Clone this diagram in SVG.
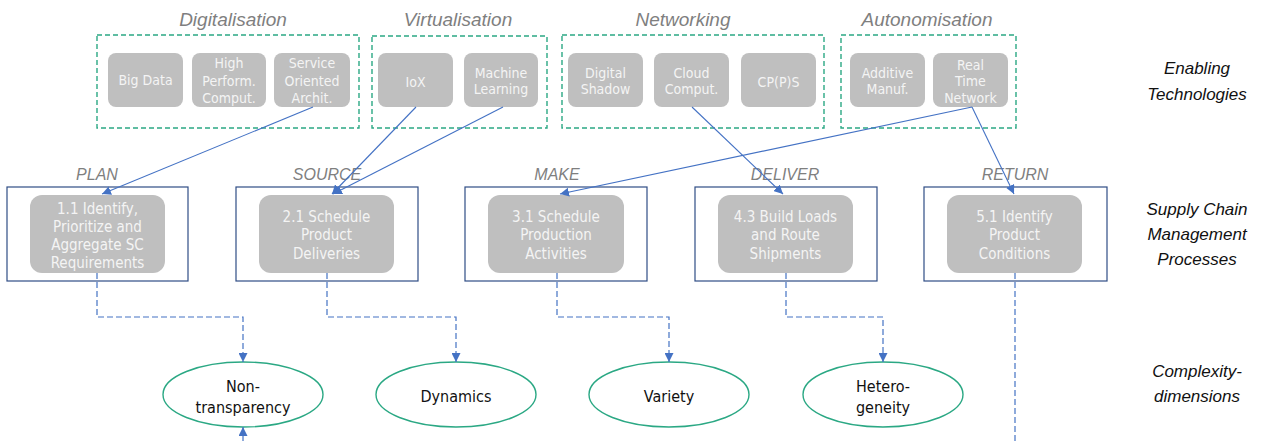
<svg xmlns="http://www.w3.org/2000/svg" width="1266" height="441" viewBox="0 0 1266 441">
  <style>
    .grp { fill: none; stroke: #2BA884; stroke-width: 1.4; stroke-dasharray: 5 3; }
    .tech { fill: #BFBFBF; }
    .techtxt { font-family: "DejaVu Sans Condensed", "DejaVu Sans", sans-serif; font-size: 14px; fill: #F4F4F4; text-anchor: middle; }
    .grptitle { font-family: "Liberation Sans", Arial, sans-serif; font-style: italic; font-size: 19px; fill: #7F7F7F; text-anchor: middle; }
    .frame { fill: #FFFFFF; stroke: #2F4D85; stroke-width: 1.2; }
    .proc { fill: #BFBFBF; }
    .proctxt { font-family: "DejaVu Sans Condensed", "DejaVu Sans", sans-serif; font-size: 15px; fill: #F4F4F4; text-anchor: middle; }
    .phase { font-family: "Liberation Sans", Arial, sans-serif; font-style: italic; font-size: 16px; fill: #7F7F7F; text-anchor: middle; }
    .dim { fill: #FFFFFF; stroke: #2BA884; stroke-width: 1.4; }
    .dimtxt { font-family: "DejaVu Sans Condensed", "DejaVu Sans", sans-serif; font-size: 16px; fill: #111111; text-anchor: middle; }
    .side { font-family: "Liberation Sans", Arial, sans-serif; font-style: italic; font-size: 17px; fill: #111111; text-anchor: middle; }
    .link { fill: none; stroke: #4472C4; stroke-width: 1.1; }
    .dash { fill: none; stroke: #4472C4; stroke-width: 1.2; stroke-dasharray: 6 3; }
  </style>
  <defs>
    <marker id="arrow" viewBox="0 0 10 10" refX="10" refY="5" markerWidth="9" markerHeight="9" markerUnits="userSpaceOnUse" orient="auto">
      <path d="M0,0 L10,5 L0,10 z" fill="#4472C4"/>
    </marker>
  </defs>

  <rect width="1266" height="441" fill="#FFFFFF"/>

  <!-- Enabling technology groups -->
  <g id="group-digitalisation">
    <text class="grptitle" x="233" y="26">Digitalisation</text>
    <rect class="grp" x="97" y="35" width="262" height="93"/>
    <g id="tech-bigdata">
      <rect class="tech" x="108" y="53" width="75" height="54" rx="8"/>
      <text class="techtxt" x="145.5" y="85">Big Data</text>
    </g>
    <g id="tech-hpc">
      <rect class="tech" x="192" y="53" width="74" height="54" rx="8"/>
      <text class="techtxt" x="229" y="68">High</text>
      <text class="techtxt" x="229" y="85.5">Perform.</text>
      <text class="techtxt" x="229" y="103">Comput.</text>
    </g>
    <g id="tech-soa">
      <rect class="tech" x="274" y="53" width="76" height="54" rx="8"/>
      <text class="techtxt" x="312" y="68">Service</text>
      <text class="techtxt" x="312" y="85.5">Oriented</text>
      <text class="techtxt" x="312" y="103">Archit.</text>
    </g>
  </g>

  <g id="group-virtualisation">
    <text class="grptitle" x="458" y="26">Virtualisation</text>
    <rect class="grp" x="372" y="36" width="175" height="92"/>
    <g id="tech-iox">
      <rect class="tech" x="378" y="53" width="75" height="54" rx="8"/>
      <text class="techtxt" x="415.5" y="86.5">IoX</text>
    </g>
    <g id="tech-ml">
      <rect class="tech" x="464" y="53" width="74" height="54" rx="8"/>
      <text class="techtxt" x="501" y="77.5">Machine</text>
      <text class="techtxt" x="501" y="94">Learning</text>
    </g>
  </g>

  <g id="group-networking">
    <text class="grptitle" x="683" y="26">Networking</text>
    <rect class="grp" x="562" y="35" width="262" height="93"/>
    <g id="tech-shadow">
      <rect class="tech" x="568" y="53" width="75" height="54" rx="8"/>
      <text class="techtxt" x="605.5" y="77.5">Digital</text>
      <text class="techtxt" x="605.5" y="94">Shadow</text>
    </g>
    <g id="tech-cloud">
      <rect class="tech" x="654" y="53" width="75" height="54" rx="8"/>
      <text class="techtxt" x="691.5" y="77.5">Cloud</text>
      <text class="techtxt" x="691.5" y="94">Comput.</text>
    </g>
    <g id="tech-cpps">
      <rect class="tech" x="741" y="53" width="75" height="54" rx="8"/>
      <text class="techtxt" x="778.5" y="86.5">CP(P)S</text>
    </g>
  </g>

  <g id="group-autonomisation">
    <text class="grptitle" x="927" y="26">Autonomisation</text>
    <rect class="grp" x="841" y="35" width="175" height="93"/>
    <g id="tech-additive">
      <rect class="tech" x="850" y="53" width="75" height="54" rx="8"/>
      <text class="techtxt" x="887.5" y="77.5">Additive</text>
      <text class="techtxt" x="887.5" y="94">Manuf.</text>
    </g>
    <g id="tech-rtn">
      <rect class="tech" x="933" y="53" width="75" height="54" rx="8"/>
      <text class="techtxt" x="970.5" y="69.5">Real</text>
      <text class="techtxt" x="970.5" y="86">Time</text>
      <text class="techtxt" x="970.5" y="102.5">Network</text>
    </g>
  </g>

  <!-- Supply chain processes -->
  <g id="proc-plan">
    <text class="phase" x="97" y="180">PLAN</text>
    <rect class="frame" x="7" y="187" width="181" height="94"/>
    <rect class="proc" x="30" y="195" width="135" height="78" rx="12"/>
    <text class="proctxt" x="97.5" y="213.5">1.1 Identify,</text>
    <text class="proctxt" x="97.5" y="231.5">Prioritize and</text>
    <text class="proctxt" x="97.5" y="249.5">Aggregate SC</text>
    <text class="proctxt" x="97.5" y="267.5">Requirements</text>
  </g>
  <g id="proc-source">
    <text class="phase" x="327" y="180">SOURCE</text>
    <rect class="frame" x="236" y="187" width="182" height="94"/>
    <rect class="proc" x="259" y="195" width="135" height="78" rx="12"/>
    <text class="proctxt" x="326.5" y="221.5">2.1 Schedule</text>
    <text class="proctxt" x="326.5" y="240">Product</text>
    <text class="proctxt" x="326.5" y="258.5">Deliveries</text>
  </g>
  <g id="proc-make">
    <text class="phase" x="557" y="180">MAKE</text>
    <rect class="frame" x="465" y="187" width="182" height="94"/>
    <rect class="proc" x="488" y="195" width="136" height="78" rx="12"/>
    <text class="proctxt" x="556" y="221.5">3.1 Schedule</text>
    <text class="proctxt" x="556" y="240">Production</text>
    <text class="proctxt" x="556" y="258.5">Activities</text>
  </g>
  <g id="proc-deliver">
    <text class="phase" x="785" y="180">DELIVER</text>
    <rect class="frame" x="695" y="187" width="182" height="94"/>
    <rect class="proc" x="718" y="195" width="135" height="78" rx="12"/>
    <text class="proctxt" x="785.5" y="221.5">4.3 Build Loads</text>
    <text class="proctxt" x="785.5" y="240">and Route</text>
    <text class="proctxt" x="785.5" y="258.5">Shipments</text>
  </g>
  <g id="proc-return">
    <text class="phase" x="1015" y="180">RETURN</text>
    <rect class="frame" x="924" y="187" width="183" height="94"/>
    <rect class="proc" x="947" y="195" width="135" height="78" rx="12"/>
    <text class="proctxt" x="1014.5" y="221.5">5.1 Identify</text>
    <text class="proctxt" x="1014.5" y="240">Product</text>
    <text class="proctxt" x="1014.5" y="258.5">Conditions</text>
  </g>

  <!-- Complexity dimensions -->
  <g id="dim-nontransparency">
    <ellipse class="dim" cx="243" cy="394.5" rx="80" ry="32.5"/>
    <text class="dimtxt" x="243" y="391.5">Non-</text>
    <text class="dimtxt" x="243" y="412.5">transparency</text>
  </g>
  <g id="dim-dynamics">
    <ellipse class="dim" cx="456" cy="394.5" rx="80" ry="32.5"/>
    <text class="dimtxt" x="456" y="401.5">Dynamics</text>
  </g>
  <g id="dim-variety">
    <ellipse class="dim" cx="669" cy="394.5" rx="80" ry="32.5"/>
    <text class="dimtxt" x="669" y="401.5">Variety</text>
  </g>
  <g id="dim-heterogeneity">
    <ellipse class="dim" cx="883" cy="394.5" rx="80" ry="32.5"/>
    <text class="dimtxt" x="883" y="391.5">Hetero-</text>
    <text class="dimtxt" x="883" y="412.5">geneity</text>
  </g>

  <!-- Row labels -->
  <g id="row-labels">
    <text class="side" x="1197" y="74">Enabling</text>
    <text class="side" x="1197" y="99.5">Technologies</text>
    <text class="side" x="1197" y="215">Supply Chain</text>
    <text class="side" x="1197" y="240">Management</text>
    <text class="side" x="1197" y="265">Processes</text>
    <text class="side" x="1197" y="377">Complexity-</text>
    <text class="side" x="1197" y="402">dimensions</text>
  </g>

  <!-- Connectors -->
  <g id="connectors">
    <line class="link" x1="313" y1="107" x2="102" y2="194" marker-end="url(#arrow)"/>
    <line class="link" x1="416" y1="107" x2="332" y2="194" marker-end="url(#arrow)"/>
    <line class="link" x1="503" y1="107" x2="333" y2="194" marker-end="url(#arrow)"/>
    <line class="link" x1="692" y1="107" x2="783" y2="194" marker-end="url(#arrow)"/>
    <line class="link" x1="972" y1="107" x2="560" y2="194" marker-end="url(#arrow)"/>
    <line class="link" x1="972" y1="107" x2="1014" y2="194" marker-end="url(#arrow)"/>

    <polyline class="dash" points="97,273 97,317 243,317 243,362" marker-end="url(#arrow)"/>
    <polyline class="dash" points="327,273 327,317 456,317 456,362" marker-end="url(#arrow)"/>
    <polyline class="dash" points="557,273 557,317 669,317 669,362" marker-end="url(#arrow)"/>
    <polyline class="dash" points="786,273 786,317 883,317 883,362" marker-end="url(#arrow)"/>
    <line class="dash" x1="1015" y1="273" x2="1015" y2="441"/>
    <line class="dash" x1="243" y1="441" x2="243" y2="427" marker-end="url(#arrow)"/>
  </g>
</svg>
